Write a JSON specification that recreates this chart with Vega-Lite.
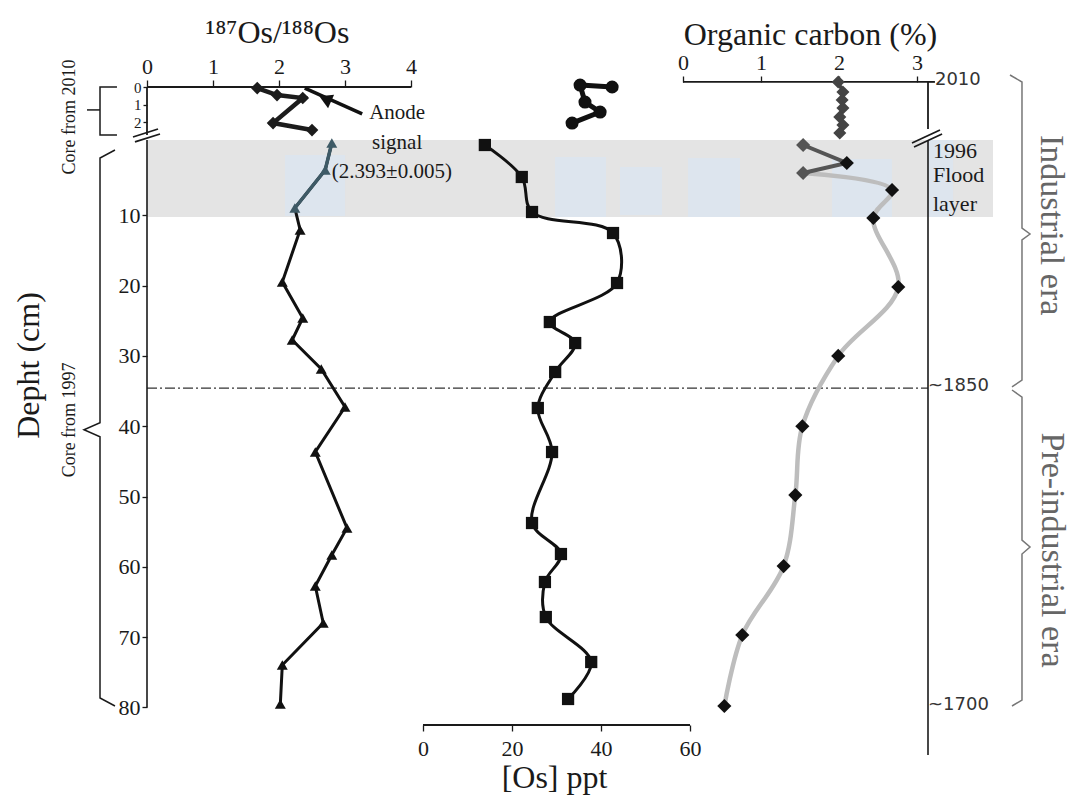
{
"$schema":"https://vega.github.io/schema/vega-lite/v6.json",
"width":781,"height":638,
"autosize":{"type":"none"},
"padding":{"left":147,"top":87,"right":145,"bottom":83},
"background":"white",
"config":{"view":{"stroke":null},"axis":{"grid":false,"domain":false,"labelFont":"Liberation Serif","titleFont":"Liberation Serif","labelColor":"#1a1a1a","tickColor":"#1a1a1a","titleColor":"#1a1a1a","titleFontWeight":"normal","labelFontSize":22,"titleFontSize":32,"tickWidth":1.3,"labelOverlap":false,"labelFlush":false,"labelBound":false}},
"datasets":{
"os_main":[{"d":-0.28,"r":2.80},{"d":3.56,"r":2.70},{"d":8.96,"r":2.24},{"d":12.09,"r":2.32},{"d":19.49,"r":2.05},{"d":24.61,"r":2.36},{"d":27.74,"r":2.20},{"d":31.86,"r":2.64},{"d":37.27,"r":3.00},{"d":43.67,"r":2.55},{"d":54.48,"r":3.03},{"d":58.32,"r":2.80},{"d":62.73,"r":2.55},{"d":67.99,"r":2.67},{"d":73.97,"r":2.05},{"d":79.52,"r":2.02}],
"os_top":[{"d":0.06,"r":1.67},{"d":0.46,"r":1.97},{"d":0.63,"r":2.36},{"d":2.06,"r":1.91},{"d":2.46,"r":2.50}],
"ppt_main":[{"d":0,"p":13.9},{"d":4.55,"p":22.2},{"d":9.53,"p":24.5},{"d":12.52,"p":42.7},{"d":19.63,"p":43.6},{"d":25.18,"p":28.5},{"d":28.17,"p":34.2},{"d":32.29,"p":29.7},{"d":37.41,"p":25.8},{"d":43.67,"p":29.0},{"d":53.77,"p":24.5},{"d":58.18,"p":31.0},{"d":62.16,"p":27.4},{"d":67.14,"p":27.6},{"d":73.54,"p":37.8},{"d":78.8,"p":32.6}],
"ppt_top":[{"i":1,"d":0.0,"p":42.5},{"i":2,"d":-0.11,"p":35.3},{"i":3,"d":0.86,"p":36.4},{"i":4,"d":1.43,"p":39.8},{"i":5,"d":2.06,"p":33.5}],
"oc_main":[{"d":0,"c":1.54},{"d":2.56,"c":2.10},{"d":3.98,"c":1.54},{"d":6.4,"c":2.68},{"d":10.38,"c":2.44},{"d":20.2,"c":2.76},{"d":30.0,"c":1.99},{"d":40.0,"c":1.53},{"d":49.8,"c":1.44},{"d":59.9,"c":1.29},{"d":69.7,"c":0.76},{"d":79.8,"c":0.53}],
"oc_top":[{"d":-0.29,"c":1.99},{"d":0.29,"c":2.05},{"d":0.74,"c":2.04},{"d":1.2,"c":2.05},{"d":1.71,"c":2.01},{"d":2.17,"c":2.05},{"d":2.63,"c":2.01}]
},
"resolve":{"scale":{"x":"independent","y":"independent"}},
"layer":[
{"data":{"values":[{"x1":-6.872,"x2":3.974,"d1":-0.71,"d2":10.24}]},"mark":{"type":"rect","color":"#e4e4e4"},
 "encoding":{"x":{"field":"x1","type":"quantitative","scale":{"domain":[-6.872,3.141],"nice":false,"zero":false},"axis":null},"x2":{"field":"x2"},
 "y":{"field":"d1","type":"quantitative","scale":{"domain":[-8.25,82.5],"nice":false,"zero":false,"reverse":true},"axis":null},"y2":{"field":"d2"}}},
{"data":{"values":[{"x1":-5.103,"x2":-4.333,"d1":1.42,"d2":10.1},{"x1":-1.641,"x2":-0.987,"d1":1.71,"d2":10.24},{"x1":-0.808,"x2":-0.269,"d1":3.13,"d2":9.96},{"x1":0.064,"x2":0.731,"d1":1.85,"d2":10.24},{"x1":1.910,"x2":2.679,"d1":1.99,"d2":10.24},{"x1":3.141,"x2":3.462,"d1":-0.71,"d2":10.24}]},"mark":{"type":"rect","color":"#dde5ee"},
 "encoding":{"x":{"field":"x1","type":"quantitative","scale":{"domain":[-6.872,3.141],"nice":false,"zero":false},"axis":null},"x2":{"field":"x2"},
 "y":{"field":"d1","type":"quantitative","scale":{"domain":[-8.25,82.5],"nice":false,"zero":false,"reverse":true},"axis":null},"y2":{"field":"d2"}}},
{"data":{"values":[{"x1":-6.872,"x2":3.141,"d":34.57}]},"mark":{"type":"rule","color":"#333333","strokeWidth":1.3,"strokeDash":[10,3,2,3]},
 "encoding":{"x":{"field":"x1","type":"quantitative","scale":{"domain":[-6.872,3.141],"nice":false,"zero":false},"axis":null},"x2":{"field":"x2"},
 "y":{"field":"d","type":"quantitative","scale":{"domain":[-8.25,82.5],"nice":false,"zero":false,"reverse":true},"axis":null}}},
{"data":{"values":[{"x1":0,"x2":0,"d1":-0.7,"d2":80}]},"mark":{"type":"rule","color":"#1a1a1a","strokeWidth":1.6},
 "encoding":{"x":{"field":"x1","type":"quantitative","scale":{"domain":[0,11.833],"nice":false,"zero":false},"axis":null},"x2":{"field":"x2"},
 "y":{"field":"d1","type":"quantitative","scale":{"domain":[-8.25,82.5],"nice":false,"zero":false,"reverse":true},"axis":null},"y2":{"field":"d2"}}},
{"data":{"values":[{"x1":0,"x2":4.0,"t1":0,"t2":0},{"x1":0,"x2":0,"t1":0,"t2":2.74},{"x1":-0.212,"x2":0.167,"t1":2.857,"t2":2.4},{"x1":-0.182,"x2":0.197,"t1":3.14,"t2":2.686}]},"mark":{"type":"rule","color":"#1a1a1a","strokeWidth":1.8},
 "encoding":{"x":{"field":"x1","type":"quantitative","scale":{"domain":[0,11.833],"nice":false,"zero":false},"axis":null},"x2":{"field":"x2"},
 "y":{"field":"t1","type":"quantitative","scale":{"domain":[0,36.457],"nice":false,"zero":false,"reverse":true},"axis":null},"y2":{"field":"t2"}}},
{"data":{"values":[{"x1":0,"x2":3.141,"t1":-0.29,"t2":-0.29},{"x1":3.141,"x2":3.141,"t1":-0.29,"t2":2.4},{"x1":3.141,"x2":3.23,"t1":-0.29,"t2":-0.29},{"x1":2.936,"x2":3.295,"t1":3.2,"t2":2.457},{"x1":2.962,"x2":3.321,"t1":3.43,"t2":2.686}]},"mark":{"type":"rule","color":"#1a1a1a","strokeWidth":1.8},
 "encoding":{"x":{"field":"x1","type":"quantitative","scale":{"domain":[-6.872,3.141],"nice":false,"zero":false},"axis":null},"x2":{"field":"x2"},
 "y":{"field":"t1","type":"quantitative","scale":{"domain":[0,36.457],"nice":false,"zero":false,"reverse":true},"axis":null},"y2":{"field":"t2"}}},
{"data":{"values":[{"x1":3.141,"x2":3.141,"d1":-0.7,"d2":86.77}]},"mark":{"type":"rule","color":"#1a1a1a","strokeWidth":1.6},
 "encoding":{"x":{"field":"x1","type":"quantitative","scale":{"domain":[-6.872,3.141],"nice":false,"zero":false},"axis":null},"x2":{"field":"x2"},
 "y":{"field":"d1","type":"quantitative","scale":{"domain":[-8.25,82.5],"nice":false,"zero":false,"reverse":true},"axis":null},"y2":{"field":"d2"}}},
{"data":{"values":[{"x1":0,"x2":60,"d1":82.5,"d2":82.5}]},"mark":{"type":"rule","color":"#1a1a1a","strokeWidth":1.8},
 "encoding":{"x":{"field":"x1","type":"quantitative","scale":{"domain":[-62.02,113.48],"nice":false,"zero":false},"axis":null},"x2":{"field":"x2"},
 "y":{"field":"d1","type":"quantitative","scale":{"domain":[-8.25,82.5],"nice":false,"zero":false,"reverse":true},"axis":null},"y2":{"field":"d2"}}},
{"data":{"values":[{"i":1,"x":-0.485,"d":0.71},{"i":2,"x":-0.712,"d":1.85},{"i":3,"x":-0.712,"d":39.5},{"i":4,"x":-0.955,"d":40.5},{"i":5,"x":-0.712,"d":41.5},{"i":6,"x":-0.712,"d":78.66},{"i":7,"x":-0.485,"d":79.8}]},"mark":{"type":"line","color":"#1a1a1a","strokeWidth":1.5},
 "encoding":{"x":{"field":"x","type":"quantitative","scale":{"domain":[0,11.833],"nice":false,"zero":false},"axis":null},
 "y":{"field":"d","type":"quantitative","scale":{"domain":[-8.25,82.5],"nice":false,"zero":false,"reverse":true},"axis":null},"order":{"field":"i"}}},
{"data":{"values":[{"g":1,"i":1,"x":-0.455,"t":0},{"g":1,"i":2,"x":-0.712,"t":0},{"g":1,"i":3,"x":-0.712,"t":2.74},{"g":1,"i":4,"x":-0.455,"t":2.74},{"g":2,"i":1,"x":-0.712,"t":1.31},{"g":2,"i":2,"x":-0.909,"t":1.31}]},"mark":{"type":"line","color":"#1a1a1a","strokeWidth":1.5},
 "encoding":{"x":{"field":"x","type":"quantitative","scale":{"domain":[0,11.833],"nice":false,"zero":false},"axis":null},
 "y":{"field":"t","type":"quantitative","scale":{"domain":[0,36.457],"nice":false,"zero":false,"reverse":true},"axis":null},"order":{"field":"i"},"detail":{"field":"g"}}},
{"data":{"values":[{"g":1,"i":1,"x":4.192,"d":-9.96},{"g":1,"i":2,"x":4.346,"d":-8.96},{"g":1,"i":3,"x":4.346,"d":11.81},{"g":1,"i":4,"x":4.449,"d":12.66},{"g":1,"i":5,"x":4.346,"d":13.51},{"g":1,"i":6,"x":4.346,"d":33.43},{"g":1,"i":7,"x":4.218,"d":34.42},
 {"g":2,"i":1,"x":4.218,"d":34.85},{"g":2,"i":2,"x":4.346,"d":35.85},{"g":2,"i":3,"x":4.346,"d":56.19},{"g":2,"i":4,"x":4.449,"d":57.18},{"g":2,"i":5,"x":4.346,"d":58.18},{"g":2,"i":6,"x":4.346,"d":78.95},{"g":2,"i":7,"x":4.218,"d":79.8}]},"mark":{"type":"line","color":"#777777","strokeWidth":1.5},
 "encoding":{"x":{"field":"x","type":"quantitative","scale":{"domain":[-6.872,3.141],"nice":false,"zero":false},"axis":null},
 "y":{"field":"d","type":"quantitative","scale":{"domain":[-8.25,82.5],"nice":false,"zero":false,"reverse":true},"axis":null},"order":{"field":"i"},"detail":{"field":"g"}}},
{"data":{"name":"os_main"},"mark":{"type":"line","color":"#111111","strokeWidth":3},
 "encoding":{"x":{"field":"r","type":"quantitative","scale":{"domain":[0,11.833],"nice":false,"zero":false},"axis":{"orient":"top","values":[0,1,2,3,4],"tickSize":7,"labelPadding":2,"title":"¹⁸⁷Os/¹⁸⁸Os","titleX":130,"titleY":-45,"titleAlign":"center","titleBaseline":"alphabetic","titleAngle":0}},
 "y":{"field":"d","type":"quantitative","scale":{"domain":[-8.25,82.5],"nice":false,"zero":false,"reverse":true},"axis":{"orient":"left","values":[10,20,30,40,50,60,70,80],"tickSize":5,"labelPadding":2,"title":"Depht (cm)","titleAngle":-90,"titleX":-119,"titleY":278,"titleAlign":"center","titleBaseline":"middle"}},"order":{"field":"d"}}},
{"data":{"name":"os_main"},"transform":[{"filter":"datum.d <= 9"}],"mark":{"type":"line","color":"#3e5a66","strokeWidth":3.5},
 "encoding":{"x":{"field":"r","type":"quantitative","scale":{"domain":[0,11.833],"nice":false,"zero":false},"axis":null},
 "y":{"field":"d","type":"quantitative","scale":{"domain":[-8.25,82.5],"nice":false,"zero":false,"reverse":true},"axis":null},"order":{"field":"d"}}},
{"data":{"name":"os_main"},"mark":{"type":"point","shape":"triangle-up","filled":true,"size":120,"opacity":1},
 "encoding":{"x":{"field":"r","type":"quantitative","scale":{"domain":[0,11.833],"nice":false,"zero":false},"axis":null},
 "y":{"field":"d","type":"quantitative","scale":{"domain":[-8.25,82.5],"nice":false,"zero":false,"reverse":true},"axis":null},
 "color":{"condition":{"test":"datum.d <= 9","value":"#3e5a66"},"value":"#111111"}}},
{"data":{"name":"os_top"},"mark":{"type":"line","color":"#1c1c1c","strokeWidth":4.5},
 "encoding":{"x":{"field":"r","type":"quantitative","scale":{"domain":[0,11.833],"nice":false,"zero":false},"axis":null},
 "y":{"field":"d","type":"quantitative","scale":{"domain":[0,36.457],"nice":false,"zero":false,"reverse":true},"axis":{"orient":"left","values":[0,1,2],"tickSize":4,"labelPadding":2,"labelFontSize":15,"title":null}},"order":{"field":"d"}}},
{"data":{"name":"os_top"},"mark":{"type":"point","shape":"diamond","filled":true,"size":160,"opacity":1,"color":"#1c1c1c"},
 "encoding":{"x":{"field":"r","type":"quantitative","scale":{"domain":[0,11.833],"nice":false,"zero":false},"axis":null},
 "y":{"field":"d","type":"quantitative","scale":{"domain":[0,36.457],"nice":false,"zero":false,"reverse":true},"axis":null}}},
{"data":{"name":"ppt_main"},"mark":{"type":"line","color":"#111111","strokeWidth":3,"interpolate":"catmull-rom"},
 "encoding":{"x":{"field":"p","type":"quantitative","scale":{"domain":[-62.02,113.48],"nice":false,"zero":false},"axis":{"orient":"bottom","values":[0,20,40,60],"tickSize":6,"labelPadding":7,"title":"[Os] ppt","titleX":407,"titleY":62,"titleAlign":"center","titleBaseline":"alphabetic"}},
 "y":{"field":"d","type":"quantitative","scale":{"domain":[-8.25,82.5],"nice":false,"zero":false,"reverse":true},"axis":null},"order":{"field":"d"}}},
{"data":{"name":"ppt_main"},"mark":{"type":"point","shape":"square","filled":true,"size":150,"opacity":1,"color":"#111111"},
 "encoding":{"x":{"field":"p","type":"quantitative","scale":{"domain":[-62.02,113.48],"nice":false,"zero":false},"axis":null},
 "y":{"field":"d","type":"quantitative","scale":{"domain":[-8.25,82.5],"nice":false,"zero":false,"reverse":true},"axis":null}}},
{"data":{"name":"ppt_top"},"mark":{"type":"line","color":"#111111","strokeWidth":5},
 "encoding":{"x":{"field":"p","type":"quantitative","scale":{"domain":[-62.02,113.48],"nice":false,"zero":false},"axis":null},
 "y":{"field":"d","type":"quantitative","scale":{"domain":[0,36.457],"nice":false,"zero":false,"reverse":true},"axis":null},"order":{"field":"i"}}},
{"data":{"name":"ppt_top"},"mark":{"type":"point","shape":"circle","filled":true,"size":170,"opacity":1,"color":"#111111"},
 "encoding":{"x":{"field":"p","type":"quantitative","scale":{"domain":[-62.02,113.48],"nice":false,"zero":false},"axis":null},
 "y":{"field":"d","type":"quantitative","scale":{"domain":[0,36.457],"nice":false,"zero":false,"reverse":true},"axis":null}}},
{"data":{"name":"oc_main"},"transform":[{"filter":"datum.d >= 3.9"}],"mark":{"type":"line","color":"#bdbdbd","strokeWidth":4.5,"interpolate":"catmull-rom"},
 "encoding":{"x":{"field":"c","type":"quantitative","scale":{"domain":[-6.872,3.141],"nice":false,"zero":false},"axis":{"orient":"top","offset":5,"values":[0,1,2,3],"tickSize":6,"labelPadding":2,"title":"Organic carbon (%)","titleX":663,"titleY":-38,"titleAlign":"center","titleBaseline":"alphabetic","titleAngle":0}},
 "y":{"field":"d","type":"quantitative","scale":{"domain":[-8.25,82.5],"nice":false,"zero":false,"reverse":true},"axis":null},"order":{"field":"d"}}},
{"data":{"name":"oc_main"},"transform":[{"filter":"datum.d <= 4"}],"mark":{"type":"line","color":"#555555","strokeWidth":4},
 "encoding":{"x":{"field":"c","type":"quantitative","scale":{"domain":[-6.872,3.141],"nice":false,"zero":false},"axis":null},
 "y":{"field":"d","type":"quantitative","scale":{"domain":[-8.25,82.5],"nice":false,"zero":false,"reverse":true},"axis":null},"order":{"field":"d"}}},
{"data":{"name":"oc_main"},"mark":{"type":"point","shape":"diamond","filled":true,"size":200,"opacity":1},
 "encoding":{"x":{"field":"c","type":"quantitative","scale":{"domain":[-6.872,3.141],"nice":false,"zero":false},"axis":null},
 "y":{"field":"d","type":"quantitative","scale":{"domain":[-8.25,82.5],"nice":false,"zero":false,"reverse":true},"axis":null},
 "color":{"condition":{"test":"datum.d < 5 && datum.c < 1.8","value":"#555555"},"value":"#111111"}}},
{"data":{"name":"oc_top"},"mark":{"type":"line","color":"#444444","strokeWidth":3.5},
 "encoding":{"x":{"field":"c","type":"quantitative","scale":{"domain":[-6.872,3.141],"nice":false,"zero":false},"axis":null},
 "y":{"field":"d","type":"quantitative","scale":{"domain":[0,36.457],"nice":false,"zero":false,"reverse":true},"axis":null},"order":{"field":"d"}}},
{"data":{"name":"oc_top"},"mark":{"type":"point","shape":"diamond","filled":true,"size":170,"opacity":1,"color":"#444444"},
 "encoding":{"x":{"field":"c","type":"quantitative","scale":{"domain":[-6.872,3.141],"nice":false,"zero":false},"axis":null},
 "y":{"field":"d","type":"quantitative","scale":{"domain":[0,36.457],"nice":false,"zero":false,"reverse":true},"axis":null}}},
{"data":{"values":[{"x1":3.26,"x2":2.39,"t1":1.54,"t2":0.06}]},"mark":{"type":"rule","color":"#111111","strokeWidth":3.5},
 "encoding":{"x":{"field":"x1","type":"quantitative","scale":{"domain":[0,11.833],"nice":false,"zero":false},"axis":null},"x2":{"field":"x2"},
 "y":{"field":"t1","type":"quantitative","scale":{"domain":[0,36.457],"nice":false,"zero":false,"reverse":true},"axis":null},"y2":{"field":"t2"}}},
{"data":{"values":[{"x":2.70,"t":0.68}]},"mark":{"type":"point","shape":"triangle-up","filled":true,"size":220,"opacity":1,"color":"#111111","angle":294},
 "encoding":{"x":{"field":"x","type":"quantitative","scale":{"domain":[0,11.833],"nice":false,"zero":false},"axis":null},
 "y":{"field":"t","type":"quantitative","scale":{"domain":[0,36.457],"nice":false,"zero":false,"reverse":true},"axis":null}}},
{"data":{"values":[{"t":"Anode","x":3.79,"y":1.49},{"t":"signal","x":3.79,"y":3.2},{"t":"(2.393±0.005)","x":3.71,"y":4.86}]},"mark":{"type":"text","font":"Liberation Serif","fontSize":21,"color":"#1a1a1a","align":"center","baseline":"middle"},
 "encoding":{"x":{"field":"x","type":"quantitative","scale":{"domain":[0,11.833],"nice":false,"zero":false},"axis":null},
 "y":{"field":"y","type":"quantitative","scale":{"domain":[0,36.457],"nice":false,"zero":false,"reverse":true},"axis":null},"text":{"field":"t"}}},
{"data":{"values":[{"t":"Core from 2010","x":-1.167,"y":-3.98},{"t":"Core from 1997","x":-1.167,"y":39.1}]},"mark":{"type":"text","font":"Liberation Serif","fontSize":18,"color":"#1a1a1a","align":"center","baseline":"middle","angle":270},
 "encoding":{"x":{"field":"x","type":"quantitative","scale":{"domain":[0,11.833],"nice":false,"zero":false},"axis":null},
 "y":{"field":"y","type":"quantitative","scale":{"domain":[-8.25,82.5],"nice":false,"zero":false,"reverse":true},"axis":null},"text":{"field":"t"}}},
{"data":{"values":[{"t":"2010","x":3.23,"y":-9.25},{"t":"~1850","x":3.141,"y":34.3},{"t":"~1700","x":3.141,"y":79.66}]},"mark":{"type":"text","font":"DejaVu Sans","fontSize":18,"color":"#333333","align":"left","baseline":"middle"},
 "encoding":{"x":{"field":"x","type":"quantitative","scale":{"domain":[-6.872,3.141],"nice":false,"zero":false},"axis":null},
 "y":{"field":"y","type":"quantitative","scale":{"domain":[-8.25,82.5],"nice":false,"zero":false,"reverse":true},"axis":null},"text":{"field":"t"}}},
{"data":{"values":[{"t":"1996","x":3.205,"y":0.85},{"t":"Flood","x":3.205,"y":4.27},{"t":"layer","x":3.205,"y":8.4}]},"mark":{"type":"text","font":"Liberation Serif","fontSize":22,"color":"#1a1a1a","align":"left","baseline":"middle"},
 "encoding":{"x":{"field":"x","type":"quantitative","scale":{"domain":[-6.872,3.141],"nice":false,"zero":false},"axis":null},
 "y":{"field":"y","type":"quantitative","scale":{"domain":[-8.25,82.5],"nice":false,"zero":false,"reverse":true},"axis":null},"text":{"field":"t"}}},
{"data":{"values":[{"t":"Industrial  era","x":4.718,"y":11.4},{"t":"Pre-industrial era","x":4.73,"y":57.6}]},"mark":{"type":"text","font":"Liberation Serif","fontSize":34,"color":"#666666","align":"center","baseline":"middle","angle":90},
 "encoding":{"x":{"field":"x","type":"quantitative","scale":{"domain":[-6.872,3.141],"nice":false,"zero":false},"axis":null},
 "y":{"field":"y","type":"quantitative","scale":{"domain":[-8.25,82.5],"nice":false,"zero":false,"reverse":true},"axis":null},"text":{"field":"t"}}}
]
}
